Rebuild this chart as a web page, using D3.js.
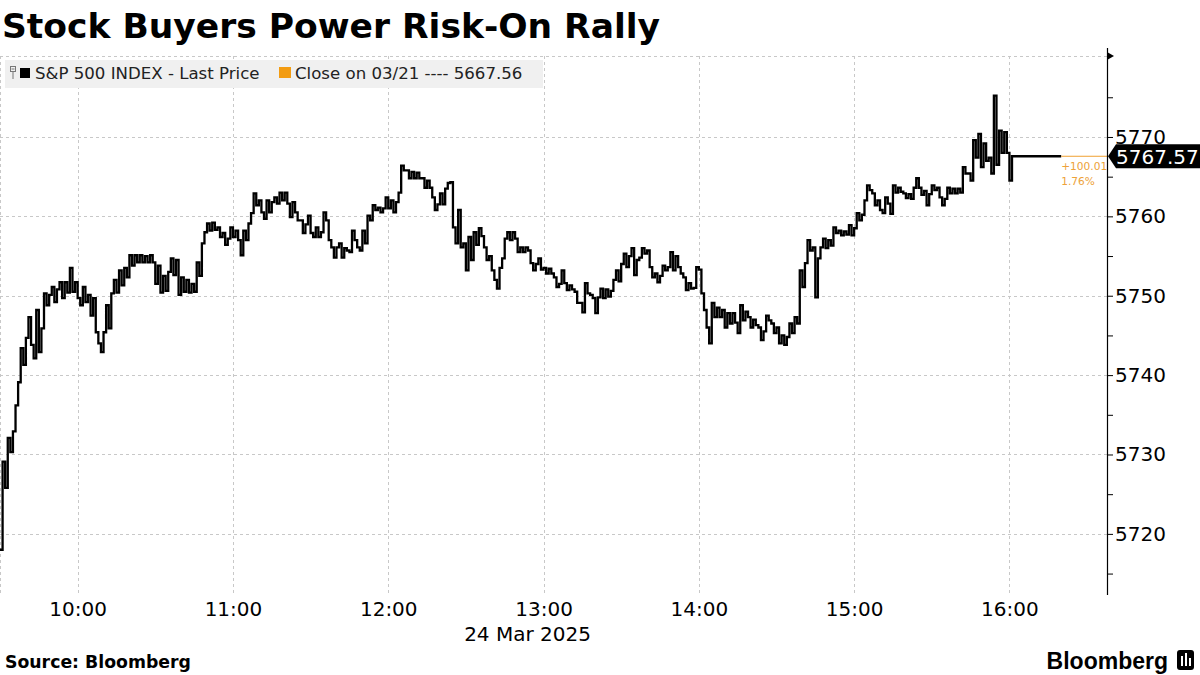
<!DOCTYPE html>
<html>
<head>
<meta charset="utf-8">
<script src="https://cdn.jsdelivr.net/npm/d3@7"></script>
<style>
  html, body { margin: 0; padding: 0; background: #fff; }
  svg { display: block; }
</style>
</head>
<body>
<svg id="chart" width="1200" height="675"></svg>
<script>
// ---------- DATA ----------
const titleText = "Stock Buyers Power Risk-On Rally";
const sessionDate = "2025-03-24";
const sessionStart = "09:30";
// S&P 500 index, one value per minute from 09:30
const prices = [
  5718.0,5729.1,5725.8,5732.1,5730.3,5732.9,5736.2,5739.1,5743.4,5741.3,
  5744.7,5747.3,5743.8,5742.1,5748.2,5742.9,5745.9,5750.3,5748.8,5750.1,
  5751.1,5749.2,5750.8,5751.7,5749.7,5751.7,5750.4,5753.5,5750.5,5751.7,
  5749.7,5748.8,5751.1,5749.2,5750.1,5747.5,5749.7,5745.4,5744.0,5742.9,
  5745.4,5748.8,5745.9,5750.3,5752.0,5750.4,5753.2,5751.3,5753.5,5752.3,
  5755.1,5753.8,5755.1,5754.2,5755.1,5754.2,5755.0,5754.2,5755.1,5754.2,
  5751.5,5753.8,5750.4,5752.5,5750.6,5753.0,5754.7,5752.6,5754.5,5750.1,
  5752.3,5750.5,5752.0,5750.4,5751.5,5750.5,5754.2,5752.5,5756.6,5758.0,
  5759.1,5758.2,5759.2,5758.3,5758.6,5757.4,5757.9,5756.4,5757.2,5758.6,
  5757.4,5758.2,5757.0,5755.1,5758.2,5757.0,5759.1,5760.4,5762.9,5761.4,
  5762.0,5760.5,5759.7,5762.0,5760.5,5761.8,5762.4,5761.6,5763.0,5762.0,
  5763.0,5761.6,5759.9,5761.8,5760.5,5759.5,5759.5,5757.9,5759.0,5760.1,
  5757.9,5757.4,5758.6,5757.4,5758.0,5760.5,5759.5,5757.0,5756.1,5754.8,
  5756.1,5756.6,5754.8,5756.0,5755.7,5755.5,5758.2,5757.0,5756.1,5755.7,
  5758.2,5756.6,5760.1,5759.5,5761.4,5760.8,5761.1,5760.5,5761.0,5762.4,
  5761.0,5762.0,5760.5,5761.8,5763.0,5766.4,5765.8,5765.8,5764.8,5765.6,
  5764.8,5765.5,5764.8,5764.8,5763.6,5764.5,5763.6,5762.4,5760.8,5761.5,
  5762.9,5761.5,5763.5,5764.2,5764.3,5758.6,5756.6,5760.8,5756.1,5756.6,
  5753.2,5757.4,5754.5,5758.0,5756.4,5758.5,5757.5,5756.1,5754.5,5755.0,
  5753.2,5752.0,5750.9,5753.5,5754.7,5757.2,5758.0,5757.0,5758.0,5757.2,
  5755.5,5756.1,5755.5,5756.1,5755.7,5754.1,5753.2,5754.0,5754.7,5753.3,
  5753.5,5752.8,5753.4,5752.8,5752.3,5751.1,5751.5,5753.2,5751.6,5750.7,
  5751.3,5750.8,5750.5,5749.1,5749.1,5747.9,5751.6,5750.3,5750.1,5749.7,
  5747.8,5749.8,5750.9,5749.7,5750.8,5749.9,5750.6,5752.0,5753.2,5751.8,
  5754.0,5755.3,5753.6,5755.0,5756.0,5752.6,5754.5,5754.8,5756.0,5755.3,
  5755.7,5753.6,5752.3,5752.8,5751.7,5752.5,5753.8,5753.2,5753.6,5755.5,
  5753.2,5755.0,5753.6,5752.8,5752.3,5750.7,5751.6,5750.9,5751.0,5753.6,
  5753.3,5750.3,5748.2,5746.0,5744.0,5749.1,5747.3,5748.5,5747.3,5748.2,
  5746.0,5747.8,5746.5,5747.8,5746.6,5745.3,5748.8,5746.9,5748.0,5747.3,
  5746.0,5747.0,5746.3,5746.0,5744.4,5745.5,5747.5,5746.9,5746.5,5745.3,
  5746.0,5744.0,5745.0,5743.8,5744.8,5746.5,5745.3,5747.3,5746.5,5753.2,
  5751.1,5754.1,5757.0,5755.7,5756.1,5749.8,5754.7,5756.1,5757.2,5756.0,
  5757.0,5756.3,5758.6,5757.9,5758.2,5757.6,5758.1,5757.7,5758.9,5757.6,
  5758.5,5760.4,5759.5,5760.2,5762.0,5763.9,5763.3,5762.9,5761.4,5762.0,
  5760.8,5760.4,5762.4,5761.6,5760.3,5763.9,5763.0,5763.6,5763.1,5762.9,
  5762.3,5762.8,5762.2,5763.6,5764.8,5763.6,5762.7,5763.2,5761.4,5762.8,
  5763.9,5763.3,5763.6,5762.4,5761.4,5762.2,5763.6,5762.9,5763.5,5762.9,
  5763.5,5763.0,5766.2,5765.4,5765.4,5764.5,5769.6,5767.4,5770.4,5766.2,
  5769.2,5767.0,5767.4,5765.4,5775.2,5766.5,5770.8,5768.0,5770.6,5768.0,
  5764.5,5767.57,5767.57,5767.57,5767.57,5767.57,5767.57,5767.57,5767.57,5767.57,
  5767.57,5767.57,5767.57,5767.57,5767.57,5767.57,5767.57,5767.57,5767.57,5767.57,
  5767.57
];
const lastPrice = 5767.57;
const prevClose = 5667.56;
const prevCloseDate = "03/21";
const changeLabel = "+100.01";
const changePctLabel = "1.76%";
const xTickTimes = ["10:00","11:00","12:00","13:00","14:00","15:00","16:00"];
const xDateLabel = "24 Mar 2025";
const yMajorTicks = [5720, 5730, 5740, 5750, 5760, 5770];
const yMinorTicks = [5715, 5725, 5735, 5745, 5755, 5765, 5775];
const legendSeries = "S&P 500 INDEX - Last Price";
const legendClose = "Close on " + prevCloseDate + " ---- " + prevClose.toFixed(2);
const sourceText = "Source: Bloomberg";
const brandText = "Bloomberg";

// ---------- SETUP ----------
const svg = d3.select("#chart");
const W = 1200, H = 675;
const plot = { left: 0, right: 1107, top: 56, bottom: 595 };
const parseT = d3.timeParse("%Y-%m-%d %H:%M");
const t0 = parseT(sessionDate + " " + sessionStart);
const tEnd = new Date(t0.getTime() + 427.7 * 60000);
const data = prices.map((v, i) => ({ t: new Date(t0.getTime() + i * 60000), v }));

const x = d3.scaleTime().domain([t0, tEnd]).range([plot.left, plot.right]);
const y = d3.scaleLinear().domain([5712.3, 5780.2]).range([plot.bottom, plot.top]);

const FONT = "'DejaVu Sans', Verdana, sans-serif";
const grid = "#c8c8c8";

// Title
svg.append("text").attr("x", 2).attr("y", 38)
  .attr("font-family", "'DejaVu Sans', sans-serif").attr("font-weight", "bold")
  .attr("font-size", 34.5).attr("fill", "#000").text(titleText);

// Gridlines
const gGrid = svg.append("g");
gGrid.selectAll("line.h").data(yMajorTicks).join("line")
  .attr("x1", plot.left).attr("x2", plot.right)
  .attr("y1", d => Math.round(y(d)) + 0.5).attr("y2", d => Math.round(y(d)) + 0.5)
  .attr("stroke", grid).attr("stroke-dasharray", "3,3");
gGrid.append("line").attr("x1", plot.left).attr("x2", plot.right)
  .attr("y1", plot.top + 0.5).attr("y2", plot.top + 0.5)
  .attr("stroke", grid).attr("stroke-dasharray", "3,3");
const tickDates = xTickTimes.map(s => parseT(sessionDate + " " + s));
gGrid.selectAll("line.v").data(tickDates).join("line")
  .attr("x1", d => Math.round(x(d)) + 0.5).attr("x2", d => Math.round(x(d)) + 0.5)
  .attr("y1", plot.top).attr("y2", plot.bottom)
  .attr("stroke", grid).attr("stroke-dasharray", "3,3");
gGrid.append("line").attr("x1", 0.5).attr("x2", 0.5)
  .attr("y1", plot.top).attr("y2", plot.bottom)
  .attr("stroke", grid).attr("stroke-dasharray", "3,3");

// Legend
const lg = svg.append("g");
lg.append("rect").attr("x", 5).attr("y", 60).attr("width", 538).attr("height", 28).attr("fill", "#f0f0f0");
// small tree icon
lg.append("rect").attr("x", 10.5).attr("y", 66.5).attr("width", 5).attr("height", 5)
  .attr("fill", "none").attr("stroke", "#777").attr("stroke-width", 1);
lg.append("line").attr("x1", 13).attr("x2", 13).attr("y1", 72).attr("y2", 79).attr("stroke", "#777");
lg.append("line").attr("x1", 11.5).attr("x2", 14.5).attr("y1", 69).attr("y2", 69).attr("stroke", "#777");
lg.append("rect").attr("x", 20).attr("y", 68).attr("width", 10).attr("height", 10).attr("fill", "#000");
lg.append("text").attr("x", 35).attr("y", 79).attr("font-family", FONT).attr("font-size", 16.6)
  .attr("fill", "#222").text(legendSeries);
lg.append("rect").attr("x", 279).attr("y", 67).attr("width", 12).attr("height", 11).attr("fill", "#f39c12");
lg.append("text").attr("x", 295).attr("y", 79).attr("font-family", FONT).attr("font-size", 16.6)
  .attr("fill", "#222").text(legendClose);

// Price line
const line = d3.line().x(d => x(d.t)).y(d => y(d.v)).curve(d3.curveStepAfter);
svg.append("path").datum(data).attr("d", line)
  .attr("fill", "none").attr("stroke", "#000").attr("stroke-width", 2.3)
  .attr("stroke-linejoin", "miter");

// Orange connector to the axis + change text
const lastT = data[data.length - 1].t;
svg.append("line").attr("x1", x(lastT)).attr("x2", plot.right)
  .attr("y1", y(lastPrice)).attr("y2", y(lastPrice))
  .attr("stroke", "#f0a030").attr("stroke-width", 1);
svg.append("text").attr("x", x(lastT)).attr("y", y(lastPrice) + 14)
  .attr("font-family", FONT).attr("font-size", 10.6).attr("fill", "#eda23a").text(changeLabel);
svg.append("text").attr("x", x(lastT)).attr("y", y(lastPrice) + 29)
  .attr("font-family", FONT).attr("font-size", 10.6).attr("fill", "#eda23a").text(changePctLabel);

// Right axis
const axisG = svg.append("g").attr("transform", `translate(${plot.right},0)`);
axisG.call(d3.axisRight(y).tickValues(yMajorTicks).tickSize(6).tickPadding(2).tickFormat(d3.format("d")));
axisG.select(".domain").remove();
axisG.selectAll(".tick text").attr("font-family", FONT).attr("font-size", 20).attr("fill", "#000");
axisG.selectAll(".tick line").attr("stroke", "#000");
const minorG = svg.append("g").attr("transform", `translate(${plot.right},0)`);
minorG.call(d3.axisRight(y).tickValues(yMinorTicks).tickSize(6).tickFormat(""));
minorG.select(".domain").remove();
minorG.selectAll(".tick line").attr("stroke", "#000");
svg.append("line").attr("x1", plot.right + 0.5).attr("x2", plot.right + 0.5)
  .attr("y1", 48).attr("y2", plot.bottom).attr("stroke", "#000").attr("stroke-width", 1.2);
svg.append("path").attr("d", `M${plot.right},${plot.top - 4} L${plot.right + 7},${plot.top} L${plot.right},${plot.top + 4} Z`)
  .attr("fill", "#000");

// Last value tag
const ly = y(lastPrice);
svg.append("path")
  .attr("d", `M${plot.right + 1},${ly} L${plot.right + 9},${ly - 12} L${W},${ly - 12} L${W},${ly + 12} L${plot.right + 9},${ly + 12} Z`)
  .attr("fill", "#000");
svg.append("text").attr("x", plot.right + 9).attr("y", ly + 7.5)
  .attr("font-family", FONT).attr("font-size", 20).attr("fill", "#fff").text(lastPrice.toFixed(2));

// Bottom axis labels
const xAxisG = svg.append("g").attr("transform", `translate(0,${plot.bottom})`);
xAxisG.call(d3.axisBottom(x).tickValues(tickDates).tickSize(0).tickPadding(7).tickFormat(d3.timeFormat("%H:%M")));
xAxisG.select(".domain").remove();
xAxisG.selectAll(".tick text").attr("font-family", FONT).attr("font-size", 20).attr("fill", "#000");
svg.append("text").attr("x", x(parseT(sessionDate + " 13:00")) - 16).attr("y", 641)
  .attr("text-anchor", "middle").attr("font-family", FONT).attr("font-size", 20).attr("fill", "#000")
  .text(xDateLabel);

// Footer
svg.append("text").attr("x", 5).attr("y", 668)
  .attr("font-family", "'DejaVu Sans', sans-serif").attr("font-weight", "bold")
  .attr("font-size", 17.3).attr("fill", "#000").text(sourceText);
svg.append("text").attr("x", 1168).attr("y", 669).attr("text-anchor", "end")
  .attr("font-family", "'Liberation Sans', sans-serif").attr("font-weight", "bold")
  .attr("font-size", 23).attr("fill", "#000").text(brandText);
const icon = svg.append("g").attr("transform", "translate(1177,650)");
icon.append("rect").attr("width", 17).attr("height", 20).attr("rx", 3).attr("fill", "#000");
icon.append("rect").attr("x", 4).attr("y", 6).attr("width", 2).attr("height", 10).attr("fill", "#fff");
icon.append("rect").attr("x", 8).attr("y", 3).attr("width", 2).attr("height", 13).attr("fill", "#fff");
icon.append("rect").attr("x", 12).attr("y", 8).attr("width", 2).attr("height", 8).attr("fill", "#fff");
</script>
</body>
</html>
